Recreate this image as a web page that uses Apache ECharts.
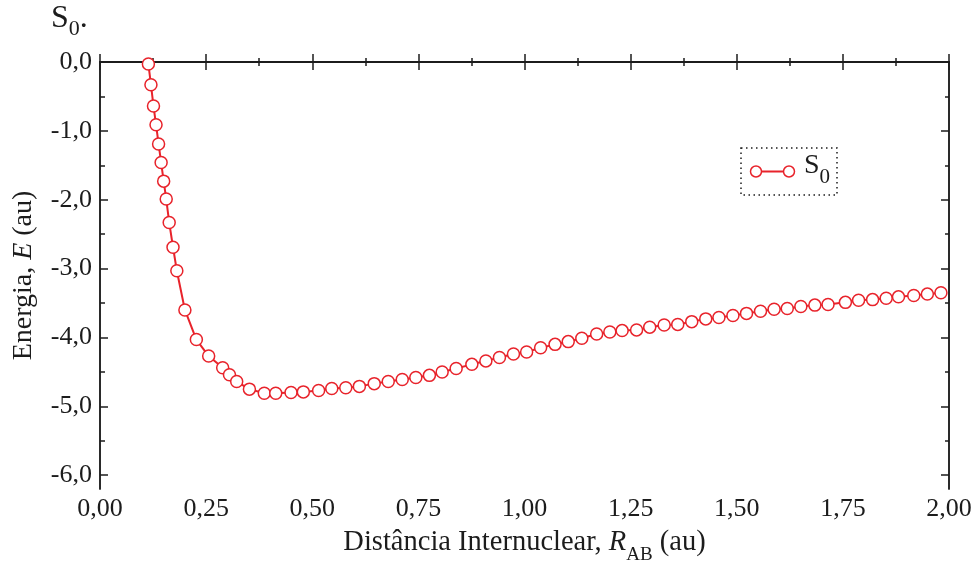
<!DOCTYPE html>
<html>
<head>
<meta charset="utf-8">
<script src="https://cdn.jsdelivr.net/npm/echarts@6/dist/echarts.min.js"></script>
<style>
  html, body { margin: 0; padding: 0; background: #ffffff; }
  #chart { width: 979px; height: 561px; }
</style>
</head>
<body>
<div id="chart"></div>
<script>
// Ground-state (S0) potential energy curve
const seriesName = 'S0';

// Internuclear distance R_AB (au)
const distance = [
  0.114, 0.120, 0.126, 0.132, 0.138, 0.144, 0.150, 0.156, 0.163, 0.172,
  0.181, 0.200, 0.227, 0.256, 0.289, 0.305, 0.322, 0.352, 0.387, 0.414,
  0.450, 0.479, 0.515, 0.546, 0.579, 0.611, 0.646, 0.679, 0.712, 0.744,
  0.776, 0.806, 0.839, 0.876, 0.909, 0.941, 0.974, 1.005, 1.038, 1.072,
  1.103, 1.135, 1.170, 1.201, 1.230, 1.264, 1.295, 1.329, 1.361, 1.394,
  1.427, 1.458, 1.491, 1.523, 1.556, 1.588, 1.619, 1.651, 1.684, 1.715,
  1.756, 1.787, 1.820, 1.852, 1.881, 1.917, 1.949, 1.981
];

// Energy E (au)
const energy = [
  -0.03, -0.33, -0.64, -0.91, -1.19, -1.46, -1.73, -1.99, -2.33, -2.69,
  -3.03, -3.60, -4.03, -4.27, -4.44, -4.54, -4.64, -4.75, -4.81, -4.81,
  -4.80, -4.79, -4.77, -4.74, -4.73, -4.71, -4.67, -4.64, -4.61, -4.58,
  -4.55, -4.50, -4.45, -4.39, -4.34, -4.29, -4.24, -4.21, -4.15, -4.10,
  -4.06, -4.01, -3.95, -3.92, -3.90, -3.89, -3.85, -3.82, -3.81, -3.77,
  -3.73, -3.71, -3.68, -3.65, -3.62, -3.59, -3.58, -3.55, -3.53, -3.52,
  -3.49, -3.46, -3.45, -3.43, -3.41, -3.39, -3.37, -3.35
];

// Axis ticks
const xTicks = [0, 0.25, 0.5, 0.75, 1.0, 1.25, 1.5, 1.75, 2.0];
const xMinorTicks = [0.125, 0.375, 0.625, 0.875, 1.125, 1.375, 1.625, 1.875];
const yTicks = [-6, -5, -4, -3, -2, -1, 0];
const yMinorTicks = [-5.5, -4.5, -3.5, -2.5, -1.5, -0.5];

const xRange = [0, 2];
const yRange = [-6.2, 0];

const RED = '#e8232b';
const INK = '#1c1c1c';
const FONT = "'Liberation Serif', 'Times New Roman', serif";

const fmtX = v => v.toFixed(2).replace('.', ',');
const fmtY = v => v.toFixed(1).replace('.', ',');

function xAxisDef(position, ticks, len, showLabels, extra) {
  return Object.assign({
    type: 'value', position, min: xRange[0], max: xRange[1],
    axisLine: { show: true, lineStyle: { color: INK, width: 1.5 } },
    axisTick: { show: true, inside: true, length: len, customValues: ticks,
                lineStyle: { color: INK, width: 1.5 } },
    axisLabel: showLabels
      ? { show: true, customValues: ticks, formatter: fmtX, margin: 7,
          color: INK, fontFamily: FONT, fontSize: 26 }
      : { show: false },
    splitLine: { show: false }
  }, extra || {});
}

function yAxisDef(position, ticks, len, showLabels, extra) {
  return Object.assign({
    type: 'value', position, min: yRange[0], max: yRange[1],
    axisLine: { show: true, onZero: false, lineStyle: { color: INK, width: 1.5 } },
    axisTick: { show: true, inside: true, length: len, customValues: ticks,
                lineStyle: { color: INK, width: 1.5 } },
    axisLabel: showLabels
      ? { show: true, customValues: ticks, formatter: fmtY, margin: 8,
          color: INK, fontFamily: FONT, fontSize: 26 }
      : { show: false },
    splitLine: { show: false }
  }, extra || {});
}

const chart = echarts.init(document.getElementById('chart'), null, { renderer: 'canvas' });

chart.setOption({
  animation: false,
  backgroundColor: '#ffffff',
  title: {
    text: '{s|S}{sub|0}{s|.}',
    left: 51, top: 3, padding: 0,
    textStyle: {
      fontWeight: 'normal',
      rich: {
        s:   { fontFamily: FONT, fontSize: 32, fontWeight: 'normal', lineHeight: 36, color: INK, verticalAlign: 'top' },
        sub: { fontFamily: FONT, fontSize: 22, fontWeight: 'normal', lineHeight: 22, color: INK, verticalAlign: 'top',
               padding: [15, 0, 0, 0] }
      }
    }
  },
  grid: { left: 100, right: 30, top: 62, bottom: 72, containLabel: false, outerBoundsMode: 'none' },
  xAxis: [
    xAxisDef('bottom', xTicks, 8, true, {
      name: '{a|Distância Internuclear, }{i|R}{sub|AB}{a| (au)}',
      nameLocation: 'middle', nameGap: 39,
      nameTextStyle: {
        rich: {
          a:   { fontFamily: FONT, fontSize: 28.5, lineHeight: 32, color: INK, verticalAlign: 'top' },
          i:   { fontFamily: FONT, fontSize: 28.5, lineHeight: 32, color: INK, verticalAlign: 'top', fontStyle: 'italic' },
          sub: { fontFamily: FONT, fontSize: 19, lineHeight: 19, color: INK, verticalAlign: 'top',
                 padding: [18, 0, 0, 0] }
        }
      }
    }),
    xAxisDef('bottom', xMinorTicks, 4, false),
    xAxisDef('top', xTicks, 8, false),
    xAxisDef('top', xMinorTicks, 4, false)
  ],
  yAxis: [
    yAxisDef('left', yTicks, 8, true, {
      name: '{a|Energia, }{i|E}{a| (au)}',
      nameLocation: 'middle', nameGap: 60, nameRotate: 90,
      nameTextStyle: {
        rich: {
          a: { fontFamily: FONT, fontSize: 28, lineHeight: 32, color: INK },
          i: { fontFamily: FONT, fontSize: 28, lineHeight: 32, color: INK, fontStyle: 'italic' }
        }
      }
    }),
    yAxisDef('left', yMinorTicks, 5, false),
    yAxisDef('right', yTicks, 8, false),
    yAxisDef('right', yMinorTicks, 4, false)
  ],
  series: [{
    name: seriesName,
    type: 'line',
    xAxisIndex: 0,
    yAxisIndex: 0,
    data: distance.map((d, i) => [d, energy[i]]),
    symbol: 'circle',
    symbolSize: 12,
    showAllSymbol: true,
    clip: false,
    itemStyle: { color: '#ffffff', borderColor: RED, borderWidth: 1.5 },
    lineStyle: { color: RED, width: 2 },
    z: 3
  }],
  graphic: [{
    type: 'group',
    x: 741, y: 148,
    children: [
      { type: 'rect', shape: { x: 0, y: 0, width: 96, height: 47 },
        style: { fill: '#ffffff', stroke: INK, lineWidth: 1.5, lineDash: [1.5, 3.5] } },
      { type: 'line', shape: { x1: 15, y1: 23.5, x2: 48, y2: 23.5 },
        style: { stroke: RED, lineWidth: 2 } },
      { type: 'circle', shape: { cx: 15, cy: 23.5, r: 5.5 },
        style: { fill: '#ffffff', stroke: RED, lineWidth: 1.5 } },
      { type: 'circle', shape: { cx: 48, cy: 23.5, r: 5.5 },
        style: { fill: '#ffffff', stroke: RED, lineWidth: 1.5 } },
      { type: 'text', x: 63, y: 4,
        style: {
          text: '{s|S}{sub|0}',
          rich: {
            s:   { fontFamily: FONT, fontSize: 28, lineHeight: 30, fill: INK, verticalAlign: 'top' },
            sub: { fontFamily: FONT, fontSize: 21, lineHeight: 21, fill: INK, verticalAlign: 'top',
                   padding: [15, 0, 0, 0] }
          }
        } }
    ]
  }]
});
</script>
</body>
</html>
